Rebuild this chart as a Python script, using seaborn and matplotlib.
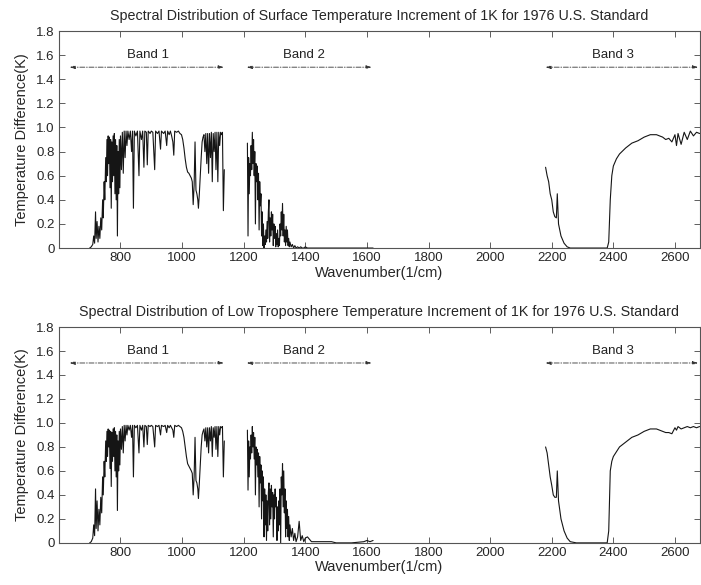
import matplotlib
matplotlib.use("Agg")
import matplotlib.pyplot as plt
import numpy as np
import pandas as pd
import seaborn as sns

# ---- data (wavenumber in 1/cm, temperature difference in K) ----
band1_wn = [700, 705, 710, 713, 716, 719, 721, 724, 727, 730, 733, 736, 739, 742, 744, 747,
            749, 752, 754, 756, 758, 760, 762, 764, 766, 768, 770, 772, 774, 776, 778, 780,
            782, 784, 786, 788, 790, 792, 794, 796, 798, 800, 803, 806, 809, 812, 815, 818,
            821, 824, 828, 832, 836, 839, 842, 845, 850, 855, 860, 863, 868, 872, 876, 879,
            884, 887, 890, 896, 900, 905, 911, 914, 920, 925, 930, 933, 940, 945, 950, 953,
            958, 962, 966, 970, 973, 976, 982, 988, 993, 998, 1002, 1006, 1010, 1014, 1018,
            1022, 1026, 1030, 1033, 1036, 1039, 1042, 1045, 1048, 1051, 1053, 1056, 1059,
            1062, 1065, 1068, 1071, 1074, 1077, 1080, 1083, 1086, 1089, 1092, 1095, 1098,
            1101, 1104, 1107, 1110, 1113, 1116, 1119, 1122, 1125, 1128, 1131, 1134, 1137]
surf_band1 = [0.00, 0.01, 0.03, 0.10, 0.04, 0.30, 0.08, 0.22, 0.05, 0.18, 0.08, 0.25, 0.15, 0.40,
              0.25, 0.55, 0.40, 0.75, 0.55, 0.90, 0.60, 0.93, 0.70, 0.92, 0.50, 0.90, 0.33, 0.88,
              0.55, 0.93, 0.60, 0.95, 0.45, 0.90, 0.40, 0.85, 0.10, 0.80, 0.45, 0.90, 0.50, 0.93,
              0.65, 0.96, 0.62, 0.97, 0.75, 0.97, 0.85, 0.97, 0.90, 0.97, 0.80, 0.97, 0.33, 0.97,
              0.93, 0.97, 0.60, 0.97, 0.90, 0.97, 0.67, 0.97, 0.96, 0.69, 0.97, 0.95, 0.97, 0.96,
              0.65, 0.97, 0.95, 0.97, 0.82, 0.97, 0.95, 0.97, 0.85, 0.97, 0.94, 0.97, 0.93, 0.88,
              0.77, 0.97, 0.96, 0.97, 0.95, 0.94, 0.90, 0.83, 0.74, 0.67, 0.63, 0.62, 0.60, 0.58,
              0.55, 0.36, 0.52, 0.88, 0.48, 0.45, 0.40, 0.33, 0.45, 0.60, 0.75, 0.88, 0.92, 0.94,
              0.80, 0.95, 0.70, 0.95, 0.62, 0.95, 0.75, 0.96, 0.55, 0.95, 0.80, 0.96, 0.65, 0.96,
              0.55, 0.96, 0.85, 0.96, 0.94, 0.96, 0.31, 0.65]
low_band1 = [0.00, 0.01, 0.04, 0.15, 0.06, 0.45, 0.12, 0.35, 0.10, 0.28, 0.15, 0.38, 0.25, 0.55,
             0.40, 0.68, 0.55, 0.85, 0.68, 0.93, 0.72, 0.95, 0.80, 0.94, 0.62, 0.93, 0.47, 0.92,
             0.68, 0.95, 0.72, 0.96, 0.60, 0.93, 0.55, 0.90, 0.27, 0.85, 0.60, 0.93, 0.65, 0.95,
             0.78, 0.97, 0.75, 0.98, 0.85, 0.98, 0.90, 0.98, 0.94, 0.98, 0.88, 0.98, 0.55, 0.98,
             0.96, 0.98, 0.75, 0.98, 0.94, 0.98, 0.80, 0.98, 0.97, 0.82, 0.98, 0.97, 0.98, 0.97,
             0.80, 0.98, 0.97, 0.98, 0.90, 0.98, 0.97, 0.98, 0.92, 0.98, 0.96, 0.98, 0.96, 0.94,
             0.88, 0.98, 0.97, 0.98, 0.97, 0.96, 0.93, 0.88, 0.80, 0.72, 0.66, 0.64, 0.62, 0.60,
             0.58, 0.40, 0.55, 0.88, 0.52, 0.50, 0.45, 0.37, 0.50, 0.65, 0.80, 0.90, 0.93, 0.95,
             0.85, 0.96, 0.80, 0.96, 0.75, 0.96, 0.85, 0.97, 0.72, 0.96, 0.88, 0.97, 0.78, 0.97,
             0.72, 0.97, 0.90, 0.97, 0.96, 0.97, 0.55, 0.85]

band2_wn = list(range(1212, 1351, 2)) + [1354, 1358, 1362, 1366, 1370, 1375, 1380, 1385, 1390,
                                         1395, 1400, 1407, 1420, 1450, 1485, 1500, 1550, 1590,
                                         1600, 1610, 1620]
surf_band2 = [0.87, 0.10, 0.75, 0.45, 0.70, 0.60, 0.85, 0.65, 0.96, 0.70, 0.90, 0.60, 0.80, 0.20,
              0.70, 0.55, 0.68, 0.40, 0.62, 0.15, 0.55, 0.35, 0.45, 0.10, 0.30, 0.02, 0.20, 0.00,
              0.10, 0.03, 0.15, 0.05, 0.22, 0.08, 0.30, 0.40, 0.05, 0.25, 0.10, 0.30, 0.15, 0.28,
              0.02, 0.20, 0.08, 0.18, 0.01, 0.12, 0.03, 0.15, 0.01, 0.08, 0.02, 0.20, 0.10, 0.30,
              0.15, 0.37, 0.10, 0.28, 0.05, 0.15, 0.02, 0.18, 0.05, 0.15, 0.02, 0.08, 0.01, 0.05,
              0.01, 0.03, 0.00, 0.02, 0.00, 0.01, 0.00, 0.01, 0.00, 0.00, 0.01, 0.00, 0.00, 0.00,
              0.00, 0.00, 0.00, 0.00, 0.00, 0.00, 0.00]
low_band2 = [0.94, 0.44, 0.85, 0.55, 0.80, 0.70, 0.90, 0.75, 0.97, 0.80, 0.92, 0.70, 0.88, 0.40,
             0.80, 0.65, 0.78, 0.55, 0.75, 0.30, 0.72, 0.50, 0.65, 0.20, 0.60, 0.35, 0.55, 0.05,
             0.45, 0.15, 0.40, 0.02, 0.35, 0.10, 0.42, 0.50, 0.15, 0.45, 0.20, 0.48, 0.30, 0.42,
             0.05, 0.40, 0.20, 0.45, 0.30, 0.38, 0.02, 0.30, 0.10, 0.35, 0.15, 0.45, 0.00, 0.55,
             0.40, 0.66, 0.30, 0.60, 0.25, 0.45, 0.05, 0.35, 0.12, 0.28, 0.05, 0.22, 0.02, 0.15,
             0.05, 0.12, 0.02, 0.08, 0.01, 0.05, 0.18, 0.02, 0.06, 0.01, 0.04, 0.05, 0.01, 0.01,
             0.01, 0.00, 0.00, 0.01, 0.02, 0.01, 0.02]

band3_wn = [2180, 2185, 2190, 2195, 2200, 2205, 2210, 2215, 2218, 2222, 2230, 2240, 2250, 2260,
            2280, 2300, 2380, 2385, 2390, 2395, 2400, 2410, 2420, 2440, 2460, 2480, 2500, 2520,
            2540, 2560, 2570, 2580, 2590, 2600, 2605, 2610, 2620, 2630, 2640, 2650, 2660, 2670,
            2680]
surf_band3 = [0.67, 0.60, 0.55, 0.45, 0.40, 0.30, 0.26, 0.25, 0.45, 0.20, 0.10, 0.04, 0.01, 0.00,
              0.00, 0.00, 0.00, 0.05, 0.40, 0.60, 0.68, 0.74, 0.78, 0.83, 0.87, 0.89, 0.92, 0.94,
              0.94, 0.92, 0.90, 0.91, 0.88, 0.94, 0.85, 0.95, 0.86, 0.96, 0.90, 0.97, 0.93, 0.96,
              0.95]
low_band3 = [0.80, 0.75, 0.65, 0.55, 0.48, 0.40, 0.38, 0.38, 0.60, 0.35, 0.20, 0.10, 0.04, 0.01,
             0.00, 0.00, 0.00, 0.10, 0.60, 0.68, 0.72, 0.76, 0.80, 0.84, 0.88, 0.90, 0.93, 0.95,
             0.95, 0.93, 0.92, 0.92, 0.91, 0.96, 0.94, 0.97, 0.95, 0.96, 0.97, 0.96, 0.97, 0.96,
             0.97]

band_names = ["Band 1", "Band 2", "Band 3"]
band_spans = [(635, 1135), (1210, 1615), (2180, 2675)]
band_label_x = [890, 1395, 2400]

titles = ["Spectral Distribution of Surface Temperature Increment of 1K for 1976 U.S. Standard",
          "Spectral Distribution of Low Troposphere Temperature Increment of 1K for 1976 U.S. Standard"]

def buildFrame(b1, b2, b3):
    parts = []
    for seg, (wn, val) in enumerate([(band1_wn, b1), (band2_wn, b2), (band3_wn, b3)]):
        assert len(wn) == len(val), (seg, len(wn), len(val))
        parts.append(pd.DataFrame({"wn": wn, "dT": val, "seg": seg}))
    return pd.concat(parts, ignore_index=True)

frames = [buildFrame(surf_band1, surf_band2, surf_band3),
          buildFrame(low_band1, low_band2, low_band3)]

sns.set_theme(style="ticks")
plt.rcParams["font.family"] = ["Liberation Sans", "DejaVu Sans"]

fig = plt.figure(figsize=(7.01, 5.85), dpi=100)
axesBoxes = [[0.084, 0.576, 0.914, 0.371], [0.084, 0.072, 0.914, 0.369]]

for i, df in enumerate(frames):
    ax = fig.add_axes(axesBoxes[i])
    sns.lineplot(data=df, x="wn", y="dT", units="seg", estimator=None, sort=False,
                 color="#151515", linewidth=0.8, ax=ax, legend=False)
    ax.set_xlim(600, 2680)
    ax.set_ylim(0, 1.8)
    ax.set_xticks(np.arange(800, 2601, 200))
    ax.set_yticks(np.arange(0, 1.81, 0.2))
    ax.set_yticklabels(["0"] + [f"{v:.1f}" for v in np.arange(0.2, 1.81, 0.2)])
    ax.tick_params(axis="both", which="both", direction="in", length=4, width=0.6,
                   top=True, right=True, labelsize=9.5, pad=3, color="#444444")
    for sp in ax.spines.values():
        sp.set_color("#555555")
        sp.set_linewidth(0.8)
    ax.set_xlabel("Wavenumber(1/cm)", fontsize=10.5, labelpad=1)
    ax.set_ylabel("Temperature Difference(K)", fontsize=10.5, labelpad=5)
    ax.set_title(titles[i], fontsize=10.3, pad=8)

    # band markers: dash-dot double arrows with names above
    for name, (x0, x1), lx in zip(band_names, band_spans, band_label_x):
        ax.annotate("", xy=(x0, 1.5), xytext=(x1, 1.5),
                    arrowprops=dict(arrowstyle="<|-|>,head_length=0.25,head_width=0.08",
                                    linestyle=(0, (6, 2, 1, 2)), linewidth=0.6,
                                    color="#333333", shrinkA=0, shrinkB=0))
        ax.text(lx, 1.6, name, ha="center", va="center", fontsize=9.5, color="#222222")

fig.savefig("out.png", dpi=100)
